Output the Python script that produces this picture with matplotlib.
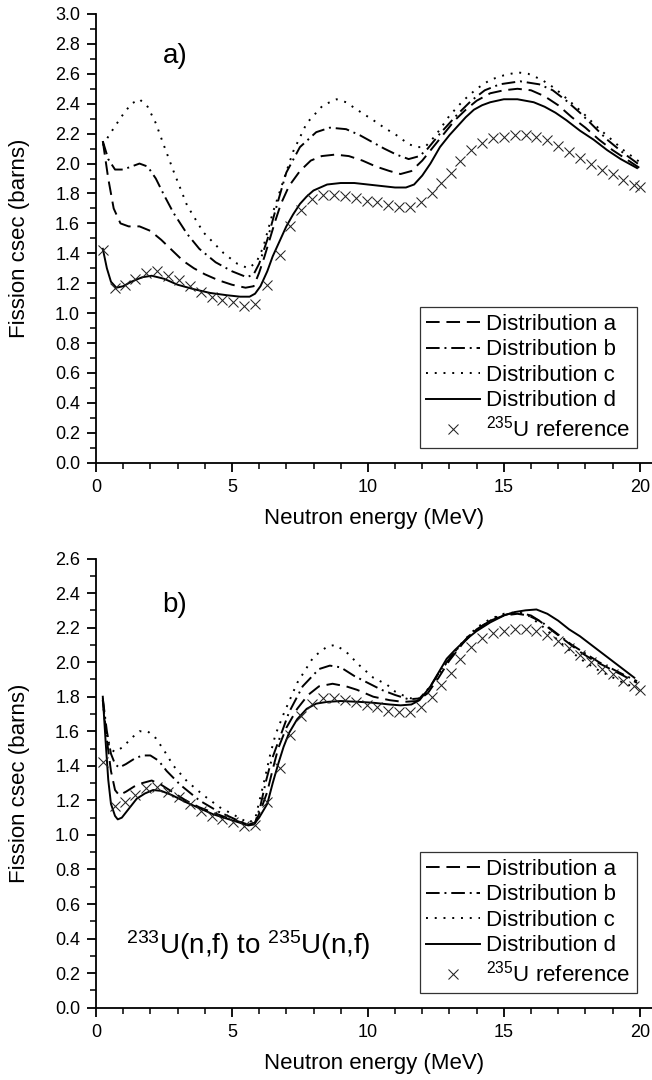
import numpy as np
import matplotlib
matplotlib.use("Agg")
import matplotlib.pyplot as plt
from matplotlib.ticker import MultipleLocator, FormatStrFormatter

plt.rcParams['font.family'] = ['Liberation Sans', 'DejaVu Sans']
plt.rcParams['mathtext.fontset'] = 'custom'
plt.rcParams['mathtext.rm'] = 'Liberation Sans'
plt.rcParams['mathtext.default'] = 'regular'

# ---------------- data ----------------
# 235U reference (crosses), same in both panels
ref_x = [0.25, 0.7, 1.05, 1.45, 1.85, 2.25, 2.65, 3.05, 3.45, 3.85, 4.25, 4.65, 5.05, 5.45, 5.85,
         6.3, 6.75, 7.15, 7.55, 7.95, 8.35, 8.75, 9.15, 9.55, 9.95, 10.35, 10.75, 11.15, 11.55, 11.95,
         12.35, 12.7, 13.05, 13.4, 13.8, 14.2, 14.6, 15.0, 15.4, 15.8, 16.2, 16.6, 17.0, 17.4, 17.8,
         18.2, 18.6, 19.0, 19.4, 19.8, 20.0]
ref_y = [1.42, 1.17, 1.19, 1.23, 1.27, 1.28, 1.25, 1.22, 1.18, 1.14, 1.11, 1.09, 1.075, 1.05, 1.06,
         1.19, 1.39, 1.58, 1.69, 1.76, 1.79, 1.79, 1.78, 1.77, 1.75, 1.74, 1.72, 1.71, 1.71, 1.74,
         1.80, 1.87, 1.94, 2.02, 2.09, 2.14, 2.17, 2.18, 2.19, 2.19, 2.18, 2.16, 2.12, 2.08, 2.04,
         2.00, 1.96, 1.93, 1.89, 1.86, 1.84]

# ---- panel a) ----
a_top_x = [0.25, 0.45, 0.65, 0.9, 1.2, 1.6, 2.0, 2.4, 2.8, 3.2, 3.6, 4.0, 4.5, 5.0, 5.5, 5.8, 6.0, 6.2,
           6.4, 6.6, 6.8, 7.1, 7.5, 7.9, 8.3, 8.8, 9.3, 9.8, 10.3, 10.8, 11.2, 11.6, 12.0, 12.4, 12.8,
           13.2, 13.6, 14.0, 14.5, 15.0, 15.5, 16.0, 16.5, 17.0, 17.5, 18.0, 18.5, 19.0, 19.5, 20.0]
a_top_y = [2.15, 1.90, 1.70, 1.60, 1.58, 1.58, 1.55, 1.49, 1.42, 1.35, 1.30, 1.26, 1.22, 1.19, 1.17, 1.18,
           1.27, 1.38, 1.50, 1.62, 1.73, 1.85, 1.95, 2.02, 2.05, 2.06, 2.05, 2.02, 1.98, 1.95, 1.93, 1.95,
           2.02, 2.11, 2.20, 2.29, 2.36, 2.42, 2.47, 2.49, 2.50, 2.49, 2.45, 2.39, 2.31, 2.24, 2.16, 2.09,
           2.03, 1.97]

b_top_x = [0.25, 0.45, 0.7, 1.0, 1.3, 1.6, 1.9, 2.2, 2.5, 2.85, 3.35, 3.8, 4.4, 5.0, 5.55, 5.8, 6.0, 6.3,
           6.65, 7.0, 7.5, 8.1, 8.6, 9.2, 9.7, 10.2, 10.6, 11.05, 11.5, 11.9, 12.2, 12.65, 13.3, 13.8,
           14.3, 14.85, 15.6, 16.3, 16.8, 17.3, 17.8, 18.3, 18.8, 19.4, 20.0]
b_top_y = [2.15, 2.03, 1.96, 1.96, 1.98, 2.00, 1.98, 1.90, 1.79, 1.67, 1.53, 1.43, 1.34, 1.28, 1.24, 1.26,
           1.33, 1.49, 1.72, 1.94, 2.11, 2.21, 2.24, 2.23, 2.19, 2.14, 2.10, 2.06, 2.03, 2.05, 2.10, 2.20,
           2.33, 2.42, 2.49, 2.53, 2.55, 2.53, 2.49, 2.42, 2.34, 2.25, 2.16, 2.07, 1.99]

c_top_x = [0.25, 0.45, 0.7, 1.0, 1.3, 1.6, 1.9, 2.2, 2.5, 2.85, 3.35, 3.95, 4.7, 5.2, 5.6, 5.9, 6.15, 6.5,
           6.9, 7.25, 7.75, 8.35, 8.85, 9.2, 9.6, 10.2, 10.6, 11.05, 11.5, 11.8, 12.1, 12.5, 13.0, 13.5,
           14.0, 14.5, 15.0, 15.5, 15.9, 16.4, 16.9, 17.4, 17.9, 18.4, 18.9, 19.4, 20.0]
c_top_y = [2.12, 2.18, 2.25, 2.33, 2.40, 2.43, 2.38, 2.27, 2.12, 1.95, 1.72, 1.54, 1.40, 1.33, 1.30, 1.34,
           1.44, 1.67, 1.89, 2.08, 2.27, 2.39, 2.43, 2.41, 2.36, 2.29, 2.24, 2.19, 2.13, 2.11, 2.11, 2.19,
           2.32, 2.42, 2.50, 2.56, 2.59, 2.61, 2.60, 2.56, 2.50, 2.42, 2.34, 2.25, 2.17, 2.09, 2.01]

d_top_x = [0.25, 0.4, 0.55, 0.75, 1.0, 1.3, 1.7, 2.05, 2.5, 3.0, 3.6, 4.2, 4.8, 5.3, 5.65, 5.85, 6.05,
           6.3, 6.5, 6.75, 7.0, 7.25, 7.5, 7.75, 8.0, 8.5, 9.0, 9.5, 10.0, 10.5, 11.0, 11.4, 11.7, 12.0,
           12.3, 12.65, 13.0, 13.3, 13.6, 13.9, 14.2, 14.5, 15.0, 15.5, 16.1, 16.5, 16.9, 17.3, 17.8,
           18.3, 18.8, 19.3, 19.9]
d_top_y = [1.43, 1.30, 1.21, 1.17, 1.18, 1.21, 1.24, 1.25, 1.23, 1.19, 1.16, 1.135, 1.12, 1.11, 1.11,
           1.13, 1.18, 1.28, 1.38, 1.48, 1.58, 1.66, 1.73, 1.78, 1.82, 1.86, 1.87, 1.87, 1.86, 1.85, 1.84,
           1.84, 1.86, 1.92, 2.00, 2.11, 2.19, 2.25, 2.31, 2.36, 2.39, 2.41, 2.43, 2.43, 2.41, 2.38, 2.34,
           2.29, 2.22, 2.16, 2.09, 2.03, 1.97]

# ---- panel b) ----
a_bot_x = [0.25, 0.4, 0.55, 0.7, 0.85, 1.1, 1.4, 1.7, 2.05, 2.4, 2.8, 3.3, 3.8, 4.3, 4.8, 5.3, 5.6, 5.85,
           6.05, 6.3, 6.5, 6.7, 7.0, 7.4, 7.8, 8.2, 8.7, 9.2, 9.6, 10.2, 10.8, 11.3, 11.8, 12.2, 12.6,
           13.0, 13.5, 14.0, 14.5, 15.0, 15.5, 15.9, 16.3, 16.8, 17.3, 17.8, 18.3, 18.8, 19.3, 19.9]
a_bot_y = [1.78, 1.55, 1.37, 1.26, 1.23, 1.25, 1.28, 1.30, 1.315, 1.29, 1.25, 1.20, 1.16, 1.13, 1.10,
           1.075, 1.06, 1.07, 1.14, 1.25, 1.38, 1.50, 1.62, 1.73, 1.81, 1.86, 1.875, 1.86, 1.84, 1.80,
           1.78, 1.77, 1.775, 1.82, 1.91, 2.01, 2.11, 2.19, 2.24, 2.27, 2.28, 2.27, 2.24, 2.18, 2.12,
           2.06, 2.01, 1.97, 1.93, 1.88]

b_bot_x = [0.25, 0.4, 0.55, 0.7, 0.85, 1.1, 1.4, 1.7, 2.0, 2.3, 2.6, 3.1, 3.8, 4.5, 5.2, 5.6, 5.85, 6.05,
           6.25, 6.45, 6.8, 7.1, 7.6, 8.2, 8.6, 9.0, 9.5, 10.0, 10.5, 11.0, 11.5, 11.9, 12.3, 12.7, 13.2,
           13.7, 14.2, 14.7, 15.2, 15.6, 16.0, 16.5, 17.0, 17.5, 18.0, 18.5, 19.0, 19.5, 19.9]
b_bot_y = [1.79, 1.60, 1.47, 1.41, 1.39, 1.41, 1.44, 1.46, 1.46, 1.43, 1.37, 1.29, 1.20, 1.135, 1.085,
           1.06, 1.07, 1.17, 1.31, 1.43, 1.58, 1.71, 1.86, 1.96, 1.98, 1.97, 1.92, 1.88, 1.84, 1.81, 1.785,
           1.79, 1.86, 1.96, 2.06, 2.15, 2.21, 2.26, 2.28, 2.285, 2.27, 2.22, 2.16, 2.10, 2.05, 2.00,
           1.96, 1.92, 1.89]

c_bot_x = [0.25, 0.35, 0.5, 0.7, 1.0, 1.3, 1.6, 1.9, 2.2, 2.5, 2.85, 3.35, 3.95, 4.55, 5.2, 5.6, 5.85,
           6.0, 6.2, 6.4, 6.6, 6.9, 7.4, 8.0, 8.5, 8.8, 9.2, 9.7, 10.2, 10.7, 11.0, 11.4, 11.8, 12.2,
           12.6, 13.0, 13.5, 14.0, 14.5, 15.0, 15.5, 15.9, 16.4, 16.9, 17.4, 17.9, 18.4, 18.9, 19.4, 19.9]
c_bot_y = [1.78, 1.62, 1.50, 1.48, 1.51, 1.56, 1.60, 1.60, 1.56, 1.49, 1.40, 1.31, 1.23, 1.16, 1.105,
           1.07, 1.09, 1.19, 1.32, 1.46, 1.58, 1.70, 1.88, 2.03, 2.09, 2.10, 2.06, 1.98, 1.91, 1.87, 1.83,
           1.80, 1.78, 1.83, 1.93, 2.02, 2.12, 2.20, 2.25, 2.28, 2.29, 2.27, 2.21, 2.14, 2.07, 2.01, 1.96,
           1.92, 1.88, 1.85]

d_bot_x = [0.25, 0.35, 0.45, 0.55, 0.7, 0.8, 0.95, 1.2, 1.5, 1.8, 2.1, 2.4, 2.8, 3.3, 3.8, 4.3, 4.8, 5.3,
           5.6, 5.8, 6.0, 6.3, 6.5, 6.7, 6.9, 7.1, 7.4, 7.75, 8.1, 8.5, 9.0, 9.7, 10.2, 10.8, 11.2, 11.6,
           11.9, 12.3, 12.6, 12.9, 13.2, 13.6, 14.0, 14.5, 15.0, 15.4, 15.8, 16.2, 16.6, 17.0, 17.4,
           17.8, 18.3, 18.8, 19.3, 19.8]
d_bot_y = [1.80, 1.55, 1.32, 1.18, 1.11, 1.09, 1.10, 1.15, 1.21, 1.24, 1.26, 1.255, 1.23, 1.19, 1.155,
           1.12, 1.095, 1.07, 1.055, 1.06, 1.10, 1.18, 1.30, 1.41, 1.51, 1.59, 1.67, 1.73, 1.76, 1.77,
           1.775, 1.77, 1.765, 1.755, 1.75, 1.755, 1.78, 1.86, 1.94, 2.02, 2.07, 2.13, 2.18, 2.23, 2.27,
           2.29, 2.30, 2.305, 2.28, 2.24, 2.19, 2.15, 2.09, 2.03, 1.97, 1.91]

labels = ['Distribution a', 'Distribution b', 'Distribution c', 'Distribution d']
ref_label = r'$^{235}$U reference'
x_ticks = [0, 5, 10, 15, 20]

# ---------------- styles ----------------
LW = 1.4
styles = [
    dict(ls=(0, (7, 3.5))),
    dict(ls=(0, (7, 2.5, 1, 2.5))),
    dict(ls=(0, (1, 3.5))),
    dict(ls='-'),
]

fig = plt.figure(figsize=(6.52, 10.80), dpi=100)
ax1 = fig.add_axes([96 / 652, (1080 - 462.7) / 1080, 556 / 652, 448.7 / 1080])
ax2 = fig.add_axes([96 / 652, (1080 - 1007.7) / 1080, 556 / 652, 449.2 / 1080])

panels = [
    (ax1, [(a_top_x, a_top_y), (b_top_x, b_top_y), (c_top_x, c_top_y), (d_top_x, d_top_y)], 3.0),
    (ax2, [(a_bot_x, a_bot_y), (b_bot_x, b_bot_y), (c_bot_x, c_bot_y), (d_bot_x, d_bot_y)], 2.6),
]

for ax, series, ymax in panels:
    for (sx, sy), st, lab in zip(series, styles, labels):
        ax.plot(sx, sy, color='black', lw=LW, label=lab, **st)
    ax.plot(ref_x, ref_y, ls='none', marker='x', ms=7, mew=0.75, color='#222222', label=ref_label)
    ax.set_xlim(0, 20.45)
    ax.set_ylim(0, ymax)
    ax.set_xticks(x_ticks)
    ax.xaxis.set_minor_locator(MultipleLocator(1))
    ax.yaxis.set_major_locator(MultipleLocator(0.2))
    ax.yaxis.set_minor_locator(MultipleLocator(0.1))
    ax.yaxis.set_major_formatter(FormatStrFormatter('%.1f'))
    for s in ['top', 'right']:
        ax.spines[s].set_visible(False)
    for s in ['left', 'bottom']:
        ax.spines[s].set_linewidth(1.3)
    ax.tick_params(which='major', direction='out', length=6.5, width=1.3, labelsize=13, pad=5)
    ax.tick_params(which='minor', direction='out', length=4, width=1.1)
    ax.set_xlabel('Neutron energy (MeV)', fontsize=16, labelpad=9)
    ax.set_ylabel('Fission csec (barns)', fontsize=16, labelpad=18)
    leg = ax.legend(loc='lower right', bbox_to_anchor=(0.973, 0.032), fontsize=16,
                    frameon=True, fancybox=False, framealpha=1, edgecolor='#333333',
                    handlelength=2.4, handletextpad=0.3, labelspacing=0.2, borderpad=0.3,
                    borderaxespad=0, numpoints=1)
    leg.get_frame().set_linewidth(0.9)

ax1.text(2.9, 2.72, 'a)', fontsize=20, ha='center', va='center')
ax2.text(2.9, 2.33, 'b)', fontsize=20, ha='center', va='center')
ax2.text(5.6, 0.36, r'$^{233}$U(n,f) to $^{235}$U(n,f)', fontsize=20, ha='center', va='center')

fig.savefig('out.png', dpi=100)
